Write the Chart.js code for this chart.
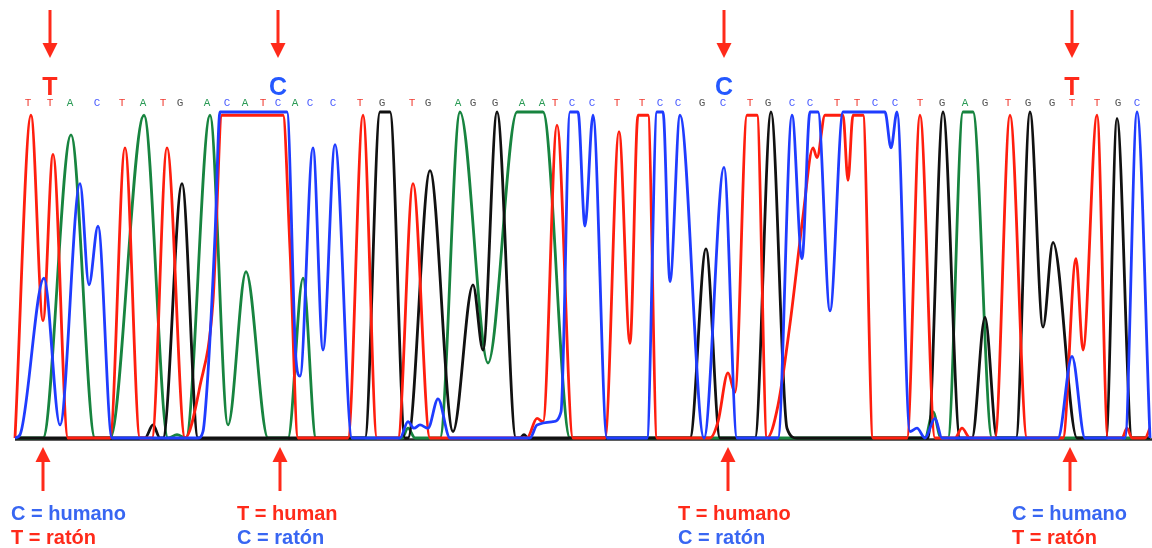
<!DOCTYPE html>
<html>
<head>
<meta charset="utf-8">
<title>Cromatograma</title>
<script src="https://cdn.jsdelivr.net/npm/chart.js@4.4.1/dist/chart.umd.min.js"></script>
<style>
    html, body { margin: 0; padding: 0; background: #fff; }
    #wrap { width: 1152px; height: 548px; }
</style>
</head>
<body>
<div id="wrap"><canvas id="trace" width="1152" height="548"></canvas></div>
<script>
// Base calls and where they sit along the run (scan units).
var sequence = 'TTACTATGACATCACCTGTGAGGAATCCTTCCGCTGCCTTCCTGAGTGGTTGC'.split('');
var basePositions = [28, 50, 70, 97, 122, 143, 163, 180, 207, 227, 245, 263, 278, 295, 310, 333, 360, 382,
    412, 428, 458, 473, 495, 522, 542, 555, 572, 592, 617, 642, 660, 678, 702, 723, 750, 768,
    792, 810, 837, 857, 875, 895, 920, 942, 965, 985, 1008, 1028, 1052, 1072, 1097, 1118, 1137];

// Positions that differ between human and mouse.
var variantPositions = [50, 278, 724, 1072];
var variantBases = ['T', 'C', 'C', 'T'];
var markerPositions = [43, 280, 728, 1070];
var humanBases = ['C', 'T', 'T', 'C'];
var mouseBases = ['T', 'C', 'C', 'T'];
var humanWord = ['humano', 'human', 'humano', 'humano'];

// Signal per channel: [scan, intensity %].
var traceT = [[15, 0], [31, 99], [43, 36], [53, 87], [68, 0], [110, 0], [125, 89], [140, 0], [152, 0], [167, 89],
    [185, 0], [200, 16], [213, 42], [222, 99], [283, 99], [290, 58], [298, 0], [348, 0], [363, 99], [377, 0],
    [398, 0], [413, 78], [430, 0], [527, 0], [537, 6], [543, 5], [557, 96], [573, 0], [605, 0], [619, 94],
    [630, 29], [638, 99], [648, 99], [657, 0], [710, 0], [718, 5], [728, 20], [735, 14], [747, 99], [757, 99],
    [767, 0], [778, 10], [790, 35], [803, 68], [813, 89], [817, 86], [825, 99], [843, 99], [848, 79], [853, 99],
    [863, 99], [873, 0], [907, 0], [920, 99], [935, 0], [955, 0], [962, 3], [970, 0], [995, 0], [1010, 99],
    [1027, 0], [1063, 0], [1076, 55], [1083, 27], [1097, 99], [1108, 0], [1122, 0], [1127, 3], [1132, 0],
    [1145, 0], [1150, 3]];

var traceC = [[15, 0], [20, 1], [44, 49], [60, 4], [80, 78], [89, 47], [98, 65], [112, 0], [198, 0], [203, 2],
    [208, 20], [215, 62], [220, 100], [287, 100], [296, 24], [300, 19], [313, 89], [323, 27], [335, 90], [352, 0],
    [400, 0], [408, 5], [414, 3], [420, 4], [428, 3], [438, 12], [450, 0], [530, 0], [537, 4], [553, 5],
    [561, 8], [570, 100], [578, 100], [585, 65], [593, 99], [607, 0], [647, 0], [657, 100], [663, 100], [670, 48],
    [680, 99], [704, 0], [724, 83], [737, 0], [778, 0], [792, 99], [802, 55], [810, 100], [818, 100], [830, 39],
    [843, 100], [885, 100], [891, 89], [897, 100], [910, 2], [917, 3], [925, 0], [935, 6], [942, 0], [1058, 0],
    [1072, 25], [1085, 0], [1125, 0], [1137, 100], [1150, 0]];

var traceA = [[15, 0], [43, 0], [71, 93], [95, 0], [110, 0], [144, 99], [168, 0], [177, 1], [186, 0], [210, 99],
    [228, 4], [246, 51], [268, 0], [288, 0], [303, 49], [316, 0], [402, 0], [408, 3], [415, 0], [440, 0],
    [460, 100], [488, 23], [517, 100], [543, 100], [570, 0], [925, 0], [933, 8], [941, 0], [948, 0], [963, 100],
    [973, 100], [992, 0], [1150, 0]];

var traceG = [[15, 0], [145, 0], [153, 4], [160, 0], [163, 0], [182, 78], [198, 0], [365, 0], [380, 100], [390, 100],
    [405, 0], [408, 0], [430, 82], [453, 2], [473, 47], [483, 27], [497, 100], [516, 0], [520, 0], [524, 1],
    [528, 0], [690, 0], [706, 58], [720, 0], [755, 0], [771, 100], [787, 3], [797, 0], [928, 0], [943, 100],
    [960, 0], [972, 0], [985, 37], [997, 0], [1016, 0], [1030, 100], [1043, 34], [1053, 60], [1077, 0], [1106, 0],
    [1117, 98], [1132, 0], [1150, 0]];

var traceColors = { A: '#17843f', C: '#1f3cff', G: '#111111', T: '#ff1e0e' };
var letterColors = { A: '#2a9a55', C: '#4a5cff', G: '#555555', T: '#f03a30' };
var labelRed = '#ff2a1a';
var labelBlue = '#3866f2';
var labelLeft = [11, 237, 678, 1012];

function toPoints(pairs) {
    return pairs.map(function(p) {
        return { x: p[0], y: p[1] };
    });
}

function channel(base, pairs) {
    return {
        label: base,
        data: toPoints(pairs),
        borderColor: traceColors[base],
        borderWidth: 2.8,
        pointRadius: 0,
        fill: false,
        cubicInterpolationMode: 'monotone',
        clip: false
    };
}

function drawArrow(ctx, x, tipY, tailY) {
    var dir = tailY < tipY ? 1 : -1;
    var headLen = 15;
    ctx.save();
    ctx.fillStyle = labelRed;
    ctx.strokeStyle = labelRed;
    ctx.lineWidth = 3;
    ctx.beginPath();
    ctx.moveTo(x, tailY);
    ctx.lineTo(x, tipY - dir * headLen + dir);
    ctx.stroke();
    ctx.beginPath();
    ctx.moveTo(x, tipY);
    ctx.lineTo(x - 7.5, tipY - dir * headLen);
    ctx.lineTo(x + 7.5, tipY - dir * headLen);
    ctx.closePath();
    ctx.fill();
    ctx.restore();
}

var decorPlugin = {
    id: 'decor',
    beforeDatasetsDraw: function(chart) {
        var ctx = chart.ctx;
        var y = chart.scales.y.getPixelForValue(0) + 1.5;
        ctx.save();
        ctx.strokeStyle = '#2a2a2a';
        ctx.lineWidth = 2.5;
        ctx.beginPath();
        ctx.moveTo(chart.chartArea.left, y);
        ctx.lineTo(chart.width, y);
        ctx.stroke();
        ctx.restore();
    },
    afterDraw: function(chart) {
        var ctx = chart.ctx;
        var xs = chart.scales.x;
        var i;
        ctx.save();
        ctx.textAlign = 'center';
        ctx.textBaseline = 'alphabetic';

        // called bases
        ctx.font = '11px "Liberation Mono", "DejaVu Sans Mono", monospace';
        for (i = 0; i < sequence.length; i++) {
            ctx.fillStyle = letterColors[sequence[i]];
            ctx.fillText(sequence[i], xs.getPixelForValue(basePositions[i]), 106);
        }

        // highlighted variant bases with arrows
        ctx.font = 'bold 25px "Liberation Sans", Arial, sans-serif';
        for (i = 0; i < variantPositions.length; i++) {
            var vx = xs.getPixelForValue(variantPositions[i]);
            ctx.fillStyle = variantBases[i] === 'T' ? labelRed : '#2458ff';
            ctx.fillText(variantBases[i], vx, 95);
            drawArrow(ctx, vx, 58, 10);
            drawArrow(ctx, xs.getPixelForValue(markerPositions[i]), 447, 491);
        }

        // legend under each marker
        ctx.textAlign = 'left';
        ctx.textBaseline = 'middle';
        ctx.font = 'bold 20px "Liberation Sans", Arial, sans-serif';
        for (i = 0; i < labelLeft.length; i++) {
            ctx.fillStyle = humanBases[i] === 'T' ? labelRed : labelBlue;
            ctx.fillText(humanBases[i] + ' = ' + humanWord[i], labelLeft[i], 514);
            ctx.fillStyle = mouseBases[i] === 'T' ? labelRed : labelBlue;
            ctx.fillText(mouseBases[i] + ' = ratón', labelLeft[i], 538);
        }
        ctx.restore();
    }
};

new Chart(document.getElementById('trace').getContext('2d'), {
    type: 'line',
    data: {
        datasets: [
            channel('C', traceC),
            channel('T', traceT),
            channel('G', traceG),
            channel('A', traceA)
        ]
    },
    options: {
        responsive: false,
        animation: false,
        devicePixelRatio: 1,
        layout: {
            padding: { left: 15, right: 2, top: 112, bottom: 110 }
        },
        scales: {
            x: { type: 'linear', min: 15, max: 1150, display: false },
            y: { min: 0, max: 100, display: false }
        },
        plugins: {
            legend: { display: false },
            tooltip: { enabled: false }
        }
    },
    plugins: [decorPlugin]
});
</script>
</body>
</html>
